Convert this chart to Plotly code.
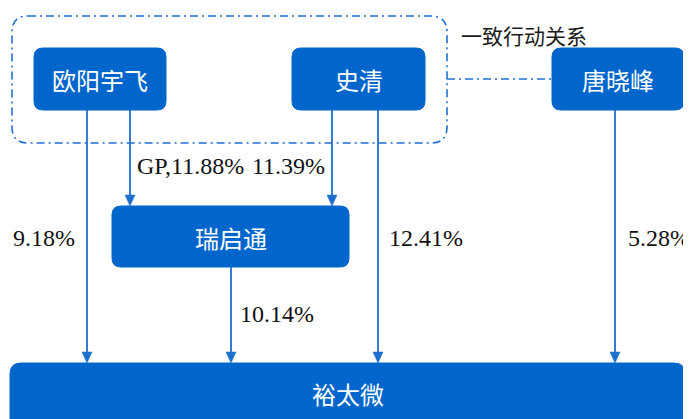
import plotly.graph_objects as go

# ---- data ----
node_names = ["欧阳宇飞", "史清", "唐晓峰", "瑞启通", "裕太微"]
share_values = [9.18, 11.88, 11.39, 12.41, 5.28, 10.14]
share_prefix = ["", "GP,", "", "", "", ""]
group_label = "一致行动关系"

# ---- layout (window pixel space; page body has an 8px margin) ----
W, H = 691, 419
OFF = 8
BLUE = "#0066CC"
LINE = "#1F6FCF"
CJK = "Noto Sans CJK SC, Noto Sans, sans-serif"
SERIF = "Liberation Serif, Times New Roman, serif"

node_boxes = [  # x0, y0, x1, y1, radius, text_y
    (34, 48, 166, 110, 9, 79),
    (292, 48, 425, 110, 9, 79),
    (552, 48, 684, 110, 9, 79),
    (112, 206, 349, 267, 9, 237),
    (10, 363, 685, 430, 11, 393),
]
# edges: x, y_start, y_end
edges = [
    (87, 110, 363),
    (130, 110, 206),
    (332, 110, 206),
    (378, 110, 363),
    (615, 110, 363),
    (231, 267, 363),
]
label_pos = [  # x, y, xanchor
    (11, 238, "left"),
    (135, 166, "left"),
    (327, 166, "right"),
    (387, 238, "left"),
    (626, 238, "left"),
    (238, 314, "left"),
]


def rrect(x0, y0, x1, y1, r):
    return (f"M{x0+r},{y0} L{x1-r},{y0} Q{x1},{y0} {x1},{y0+r} "
            f"L{x1},{y1-r} Q{x1},{y1} {x1-r},{y1} L{x0+r},{y1} "
            f"Q{x0},{y1} {x0},{y1-r} L{x0},{y0+r} Q{x0},{y0} {x0+r},{y0} Z")


shapes = []
annotations = []

# group dash-dot box
shapes.append(dict(type="path", path=rrect(12, 16, 447, 143, 16),
                   line=dict(color=LINE, width=1.6, dash="8px,4px,2px,4px"),
                   fillcolor="rgba(0,0,0,0)", layer="below"))
# connector to 唐晓峰
shapes.append(dict(type="line", x0=447, y0=79, x1=552, y1=79,
                   line=dict(color=LINE, width=1.6, dash="8px,4px,2px,4px")))

annotations.append(dict(x=459, y=35, text=group_label, showarrow=False,
                        xanchor="left", yanchor="middle",
                        font=dict(family=CJK, size=21, color="#1a1a1a")))

# edges with arrowheads
for (x, ys, ye) in edges:
    shapes.append(dict(type="line", x0=x, y0=ys, x1=x, y1=ye - 8,
                       line=dict(color=LINE, width=1.8)))
    shapes.append(dict(type="path",
                       path=f"M{x-5},{ye-11} L{x+5},{ye-11} L{x},{ye} Z",
                       fillcolor=LINE, line=dict(color=LINE, width=0.5)))

# node boxes
for name, (x0, y0, x1, y1, r, ty) in zip(node_names, node_boxes):
    shapes.append(dict(type="path", path=rrect(x0, y0, x1, y1, r),
                       fillcolor=BLUE, line=dict(color=BLUE, width=1)))
    annotations.append(dict(x=(x0 + x1) / 2, y=ty, text=name, showarrow=False,
                            xanchor="center", yanchor="middle",
                            font=dict(family=CJK, size=24, color="white")))

# share labels
for v, p, (x, y, xa) in zip(share_values, share_prefix, label_pos):
    annotations.append(dict(x=x, y=y, text=f"{p}{v:.2f}%", showarrow=False,
                            xanchor=xa, yanchor="middle",
                            font=dict(family=SERIF, size=24, color="#111111")))

fig = go.Figure()
fig.update_layout(
    width=W - OFF, height=H - OFF, margin=dict(l=0, r=0, t=0, b=0),
    paper_bgcolor="white", plot_bgcolor="white",
    xaxis=dict(range=[OFF, W], visible=False, fixedrange=True),
    yaxis=dict(range=[H, OFF], visible=False, fixedrange=True),
    shapes=shapes, annotations=annotations, showlegend=False,
)
fig.write_html("out.html")
